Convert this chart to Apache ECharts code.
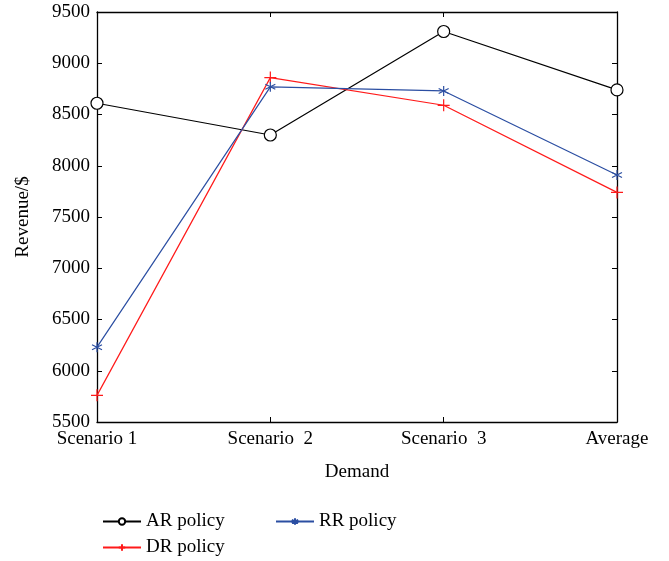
<!DOCTYPE html>
<html><head><meta charset="utf-8">
<script src="https://cdn.jsdelivr.net/npm/echarts@6/dist/echarts.min.js"></script>
<style>html,body{margin:0;padding:0;background:#fff}#c{width:669px;height:561px}</style>
</head><body><div id="c"></div>
<script>
var categories = ['Scenario 1', 'Scenario  2', 'Scenario  3', 'Average'];
var arPolicy = [8610, 8300, 9310, 8740];
var drPolicy = [5760, 8860, 8590, 7740];
var rrPolicy = [6230, 8770, 8730, 7910];
var yMin = 5500, yMax = 9500, yStep = 500;

var FONT = '"Liberation Serif", "DejaVu Serif", serif';
var plus = 'path://M5,0L5,10M0,5L10,5';
var star = 'path://M5,0L5,10M0.67,2.5L9.33,7.5M0.67,7.5L9.33,2.5';
var chart = echarts.init(document.getElementById('c'));
function axisBase() {
  return {
    axisLine: {show: true, lineStyle: {color: '#000', width: 1.3}},
    axisTick: {show: true, inside: true, length: 5, lineStyle: {color: '#000', width: 1}},
    splitLine: {show: false}
  };
}
var xMain = Object.assign(axisBase(), {
  type: 'category', data: categories, boundaryGap: false, position: 'bottom',
  name: 'Demand', nameLocation: 'middle', nameGap: 41,
  nameTextStyle: {fontFamily: FONT, fontSize: 19, color: '#000'},
  axisLabel: {fontFamily: FONT, fontSize: 19, color: '#000', margin: 8, interval: 0},
  axisTick: {show: true, inside: true, length: 5, interval: 0, lineStyle: {color: '#000'}}
});
var xTop = Object.assign(axisBase(), {
  type: 'category', data: categories, boundaryGap: false, position: 'top',
  axisLabel: {show: false},
  axisTick: {show: true, inside: true, length: 5, interval: 0, lineStyle: {color: '#000'}}
});
var yMain = Object.assign(axisBase(), {
  type: 'value', min: yMin, max: yMax, interval: yStep, position: 'left',
  name: 'Revenue/$', nameLocation: 'middle', nameGap: 64, nameRotate: 90,
  nameTextStyle: {fontFamily: FONT, fontSize: 19, color: '#000'},
  axisLabel: {fontFamily: FONT, fontSize: 19, color: '#000', margin: 7, formatter: function (v) { return String(v); }}
});
var yRight = Object.assign(axisBase(), {
  type: 'value', min: yMin, max: yMax, interval: yStep, position: 'right',
  axisLabel: {show: false}
});
function legend(name, left, top) {
  return {data: [name], left: left, top: top, orient: 'horizontal', itemWidth: 38, itemHeight: 8, itemGap: 10,
    textStyle: {fontFamily: FONT, fontSize: 19, color: '#000'}, selectedMode: false};
}
chart.setOption({
  animation: false,
  backgroundColor: '#fff',
  grid: {left: 97, right: 52, top: 12, bottom: 139, containLabel: false},
  xAxis: [xMain, xTop],
  yAxis: [yMain, yRight],
  legend: [legend('AR policy', 97, 507), legend('RR policy', 270, 507), legend('DR policy', 97, 533)],
  series: [
    {name: 'AR policy', type: 'line', data: arPolicy, symbol: 'circle', symbolSize: 12,
      lineStyle: {color: '#000', width: 1.2}, itemStyle: {color: '#fff', borderColor: '#000', borderWidth: 1.2}, z: 3},
    {name: 'DR policy', type: 'line', data: drPolicy, symbol: plus, symbolSize: 12,
      lineStyle: {color: '#ff1a1a', width: 1.2}, itemStyle: {color: 'transparent', borderColor: '#ff1a1a', borderWidth: 1.2}},
    {name: 'RR policy', type: 'line', data: rrPolicy, symbol: star, symbolSize: 10,
      lineStyle: {color: '#2b4ea2', width: 1.2}, itemStyle: {color: 'transparent', borderColor: '#2b4ea2', borderWidth: 1.2}}
  ]
});
</script></body></html>
